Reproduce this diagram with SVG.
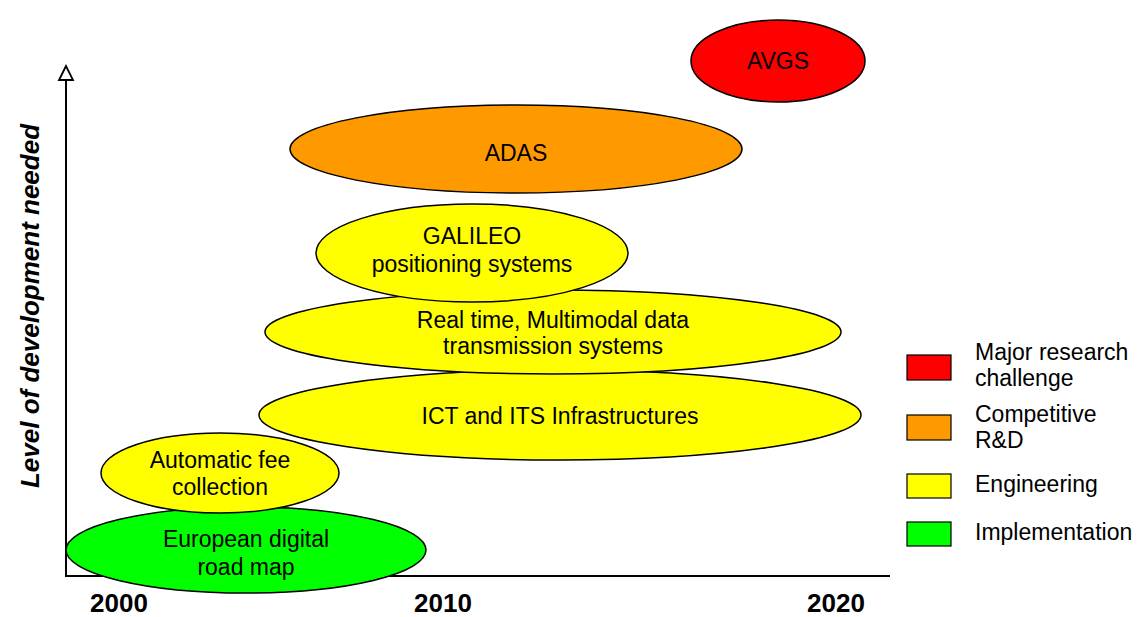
<svg xmlns="http://www.w3.org/2000/svg" width="1144" height="617" viewBox="0 0 1144 617">
<style>
.t{font-family:"Liberation Sans",Arial,sans-serif;font-size:23px;fill:#000}
.y{font-family:"Liberation Sans",Arial,sans-serif;font-size:26px;font-weight:bold;fill:#000}
.e{stroke:#000;stroke-width:1.5}
.lg{stroke:#000;stroke-width:1.2}
</style>
<rect width="1144" height="617" fill="#fff"/>
<g id="axes">
<line x1="66" y1="80" x2="66" y2="577" stroke="#000" stroke-width="2"/>
<line x1="65" y1="576" x2="890" y2="576" stroke="#000" stroke-width="2"/>
<polygon points="66,66 59,80 73,80" fill="#fff" stroke="#000" stroke-width="1.8"/>
<text class="y" x="119" y="612" font-size="25" text-anchor="middle">2000</text>
<text class="y" x="443" y="612" font-size="25" text-anchor="middle">2010</text>
<text class="y" x="836" y="612" font-size="25" text-anchor="middle">2020</text>
<text class="y" font-style="italic" font-size="26.5" transform="translate(39,306) rotate(-90)" text-anchor="middle">Level of development needed</text>
</g>
<g id="european">
<ellipse class="e" cx="246" cy="550" rx="180" ry="43" fill="#00FF00"/>
<text class="t" x="246" y="547" text-anchor="middle">European digital</text>
<text class="t" x="246" y="575" text-anchor="middle">road map</text>
</g>
<g id="fee">
<ellipse class="e" cx="220" cy="473" rx="119" ry="40" fill="#FFFF00"/>
<text class="t" x="220" y="468" text-anchor="middle">Automatic fee</text>
<text class="t" x="220" y="495" text-anchor="middle">collection</text>
</g>
<g id="ict">
<ellipse class="e" cx="560" cy="415" rx="301" ry="45" fill="#FFFF00"/>
<text class="t" x="560" y="424" text-anchor="middle">ICT and ITS Infrastructures</text>
</g>
<g id="realtime">
<ellipse class="e" cx="553" cy="332" rx="288" ry="42" fill="#FFFF00"/>
<text class="t" x="553" y="328" text-anchor="middle">Real time, Multimodal data</text>
<text class="t" x="553" y="354" text-anchor="middle">transmission systems</text>
</g>
<g id="galileo">
<ellipse class="e" cx="472" cy="253" rx="156" ry="49" fill="#FFFF00"/>
<text class="t" x="472" y="244" text-anchor="middle">GALILEO</text>
<text class="t" x="472" y="272" text-anchor="middle">positioning systems</text>
</g>
<g id="adas">
<ellipse class="e" cx="516" cy="149" rx="226" ry="44" fill="#FF9900"/>
<text class="t" x="516" y="161" text-anchor="middle">ADAS</text>
</g>
<g id="avgs">
<ellipse class="e" cx="778" cy="61" rx="87" ry="41" fill="#FF0000"/>
<text class="t" x="778" y="69" text-anchor="middle">AVGS</text>
</g>
<g id="legend">
<rect class="lg" x="907" y="355" width="44" height="25" fill="#FF0000"/>
<rect class="lg" x="907" y="415" width="44" height="25" fill="#FF9900"/>
<rect class="lg" x="907" y="474" width="44" height="24" fill="#FFFF00"/>
<rect class="lg" x="907" y="522" width="44" height="24" fill="#00FF00"/>
<text class="t" x="975" y="360">Major research</text>
<text class="t" x="975" y="386">challenge</text>
<text class="t" x="975" y="422">Competitive</text>
<text class="t" x="975" y="448">R&amp;D</text>
<text class="t" x="975" y="492">Engineering</text>
<text class="t" x="975" y="540">Implementation</text>
</g>
</svg>
